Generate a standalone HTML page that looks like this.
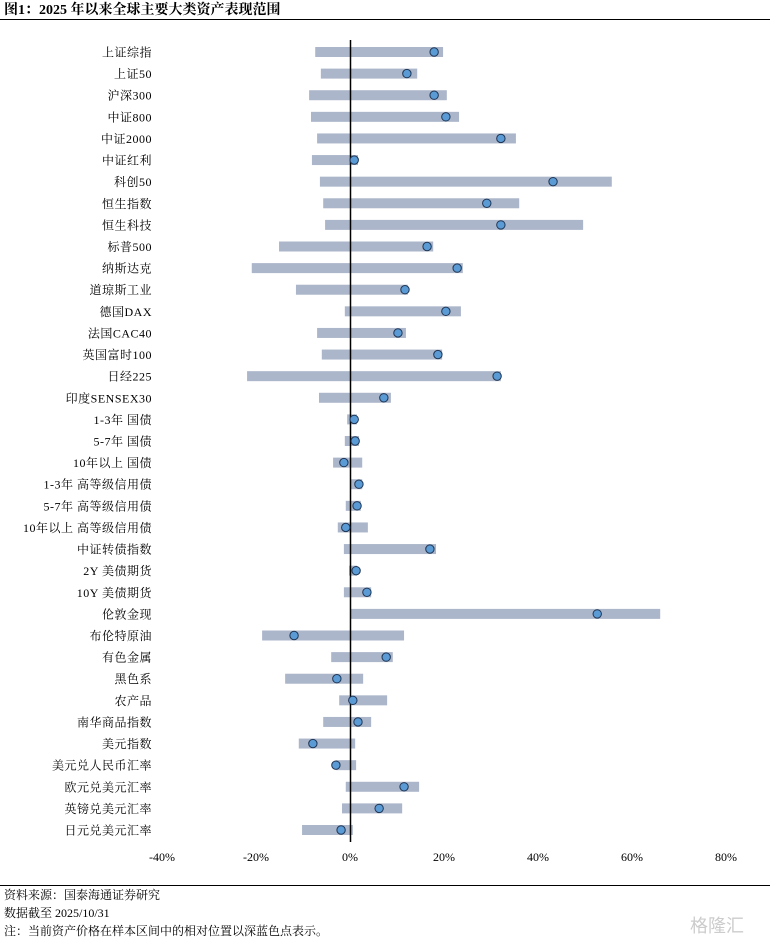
<!DOCTYPE html>
<html><head><meta charset="utf-8">
<style>
body{margin:0;background:#fff;width:770px;height:942px;overflow:hidden;font-family:"Liberation Serif","Noto Serif CJK SC",serif;}
svg{position:absolute;left:0;top:0}
</style></head><body>
<svg width="770" height="942">
<text x="4" y="14" font-size="14" font-weight="bold" font-family="Liberation Serif, Noto Serif CJK SC, serif">图1：2025 年以来全球主要大类资产表现范围</text>
<line x1="0" y1="19.5" x2="770" y2="19.5" stroke="#000" stroke-width="1"/>
<g id="plot"></g>
<line x1="0" y1="885.5" x2="770" y2="885.5" stroke="#000" stroke-width="1"/>
<g font-size="12" font-family="Liberation Serif, Noto Serif CJK SC, serif">
<text x="4" y="899">资料来源：国泰海通证券研究</text>
<text x="4" y="917">数据截至 2025/10/31</text>
<text x="4" y="935">注：当前资产价格在样本区间中的相对位置以深蓝色点表示。</text>
</g>
<text x="690" y="932" font-size="18" fill="#ccc" font-family="Noto Sans CJK SC, sans-serif">格隆汇</text>
</svg>
<script>
const categories=["上证综指","上证50","沪深300","中证800","中证2000","中证红利","科创50","恒生指数","恒生科技","标普500","纳斯达克","道琼斯工业","德国DAX","法国CAC40","英国富时100","日经225","印度SENSEX30","1-3年 国债","5-7年 国债","10年以上 国债","1-3年 高等级信用债","5-7年 高等级信用债","10年以上 高等级信用债","中证转债指数","2Y 美债期货","10Y 美债期货","伦敦金现","布伦特原油","有色金属","黑色系","农产品","南华商品指数","美元指数","美元兑人民币汇率","欧元兑美元汇率","英镑兑美元汇率","日元兑美元汇率"];
const minValues=[-7.4,-6.2,-8.7,-8.3,-7.0,-8.1,-6.4,-5.7,-5.3,-15.1,-20.9,-11.5,-1.1,-7.0,-6.0,-21.9,-6.6,-0.6,-1.1,-3.6,0,-0.9,-2.6,-1.3,-0.2,-1.3,0,-18.7,-4.0,-13.8,-2.3,-5.7,-10.9,-3.0,-0.9,-1.7,-10.2];
const maxValues=[19.8,14.3,20.6,23.2,35.3,1.7,55.7,36.0,49.6,17.7,24.0,12.3,23.6,11.9,19.6,32.1,8.7,1.5,1.9,2.6,2.6,2.3,3.8,18.3,1.5,4.5,66.0,11.5,9.1,2.8,7.9,4.5,1.1,1.3,14.7,11.1,0.6];
const currentValues=[17.9,12.1,17.9,20.4,32.1,0.9,43.2,29.1,32.1,16.4,22.8,11.7,20.4,10.2,18.7,31.3,7.2,0.9,1.1,-1.3,1.9,1.5,-0.9,17.0,1.3,3.6,52.6,-11.9,7.7,-2.8,0.6,1.7,-7.9,-3.0,11.5,6.2,-1.9];
const tickValues=[-40,-20,0,20,40,60,80];
const tickLabels=["-40%","-20%","0%","20%","40%","60%","80%"];
const NS="http://www.w3.org/2000/svg";
const g=document.getElementById('plot');
const x=v=>350+v*4.7;
const y=i=>52+i*(778/36);
function mk(t,a){const e=document.createElementNS(NS,t);for(const k in a)e.setAttribute(k,a[k]);g.appendChild(e);return e;}
categories.forEach((c,i)=>{
  const t=mk('text',{x:152,y:y(i)+4.5,'text-anchor':'end','font-size':12,'letter-spacing':0.5});
  t.textContent=c;
  
  
  const r=mk('rect',{x:x(minValues[i]),y:y(i)-5,width:x(maxValues[i])-x(minValues[i]),height:10,fill:'#abb6ca'});
  
  
});
const zl=mk('line',{x1:350.5,y1:40,x2:350.5,y2:842,stroke:'#000','stroke-width':1.5});


categories.forEach((c,i)=>{
  const p=mk('circle',{cx:x(currentValues[i]),cy:y(i),r:4.2,fill:'#5b9bd5',stroke:'#1f3554','stroke-width':1});
  
  
});
tickValues.forEach((v,i)=>{
  const t=mk('text',{x:x(v),y:861,'text-anchor':'middle','font-size':12});
  t.textContent=tickLabels[i];
  
  
});
</script>
</body></html>
